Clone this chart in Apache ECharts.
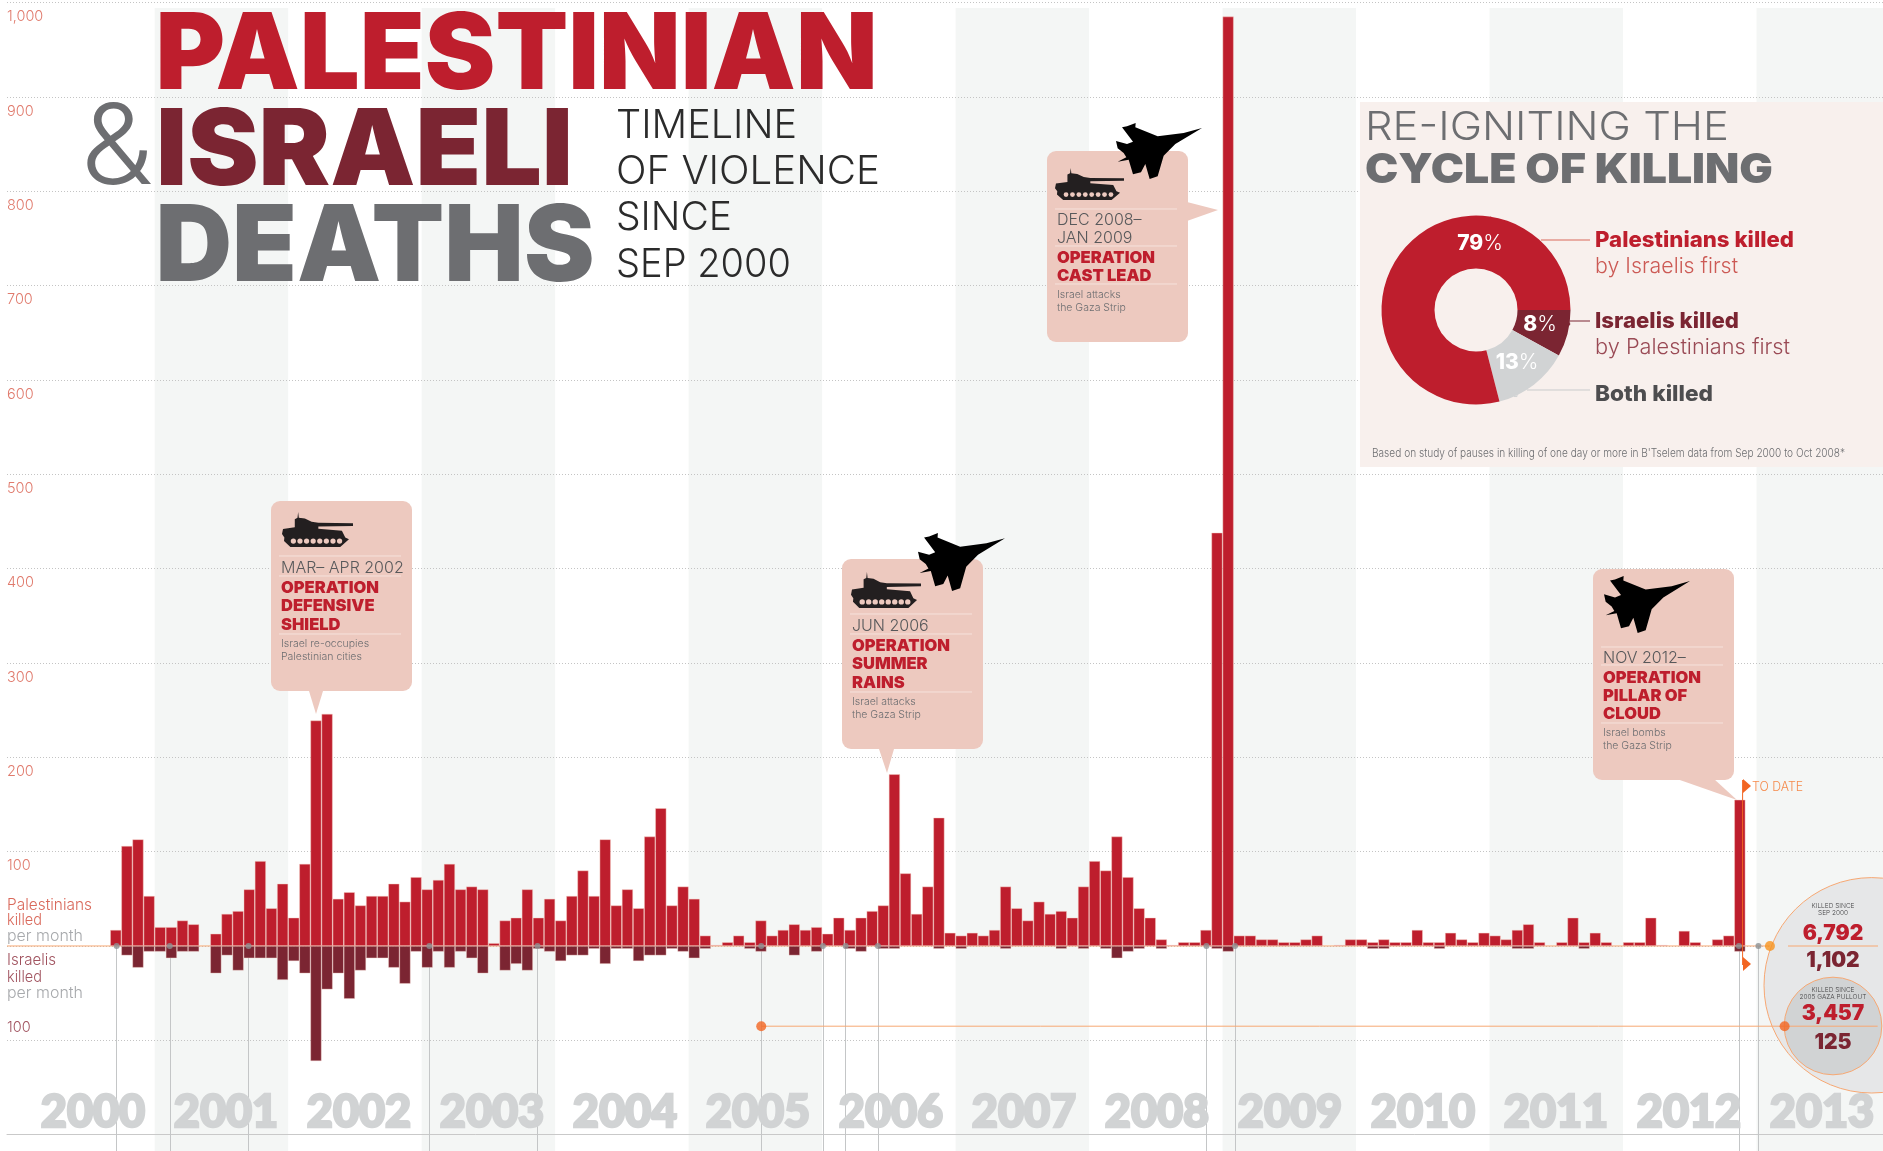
<!DOCTYPE html>
<html>
<head>
<meta charset="utf-8">
<title>Palestinian and Israeli deaths</title>
<script src="https://cdn.jsdelivr.net/npm/echarts@6/dist/echarts.min.js"></script>
<style>
    html, body { margin: 0; padding: 0; background: #fff; }
    #chart { width: 1883px; height: 1151px; }
</style>
</head>
<body>
<div id="chart"></div>
<script>
// one row per year, Jan..Dec
const palestiniansKilled = [
    0, 0, 0, 0, 0, 0, 0, 0, 17, 106, 113, 53,
    20, 20, 27, 23, 0, 13, 34, 37, 60, 90, 40, 66,
    30, 87, 239, 246, 50, 57, 43, 53, 53, 66, 47, 73,
    60, 70, 87, 60, 63, 60, 3, 27, 30, 60, 30, 50,
    27, 53, 80, 53, 113, 43, 60, 40, 116, 146, 43, 63,
    50, 11, 1, 4, 11, 4, 27, 11, 17, 23, 17, 20,
    13, 30, 17, 30, 37, 43, 182, 77, 34, 63, 136, 14,
    11, 14, 11, 17, 63, 40, 27, 47, 34, 37, 30, 63,
    90, 80, 116, 73, 40, 30, 7, 1, 4, 4, 17, 438,
    985, 11, 11, 7, 7, 4, 4, 7, 11, 0, 1, 7,
    7, 4, 7, 4, 4, 17, 4, 4, 14, 7, 4, 14,
    11, 7, 17, 23, 4, 0, 4, 30, 4, 14, 4, 0,
    4, 4, 30, 1, 0, 16, 4, 0, 7, 11, 155, 0
];
const israelisKilled = [
    0, 0, 0, 0, 0, 0, 0, 0, 0, 10, 23, 6,
    6, 13, 6, 6, 0, 29, 10, 26, 13, 13, 13, 36,
    16, 29, 122, 46, 29, 56, 26, 13, 13, 23, 40, 6,
    23, 6, 23, 6, 13, 29, 0, 26, 19, 26, 3, 6,
    16, 10, 10, 3, 19, 3, 3, 16, 10, 10, 3, 6,
    13, 3, 0, 0, 0, 3, 6, 0, 0, 10, 0, 6,
    0, 0, 3, 6, 0, 3, 3, 0, 0, 0, 3, 0,
    3, 0, 0, 0, 3, 0, 0, 0, 0, 3, 0, 3,
    0, 3, 13, 6, 3, 0, 3, 0, 0, 0, 0, 3,
    6, 0, 0, 0, 0, 0, 0, 0, 0, 0, 0, 0,
    0, 3, 3, 0, 0, 0, 0, 3, 0, 0, 0, 0,
    0, 0, 3, 3, 0, 0, 0, 0, 3, 0, 0, 0,
    0, 0, 0, 0, 0, 0, 0, 0, 0, 0, 6, 0
];
const years = ['2000', '2001', '2002', '2003', '2004', '2005', '2006', '2007', '2008', '2009', '2010', '2011', '2012', '2013'];
const shadedYears = ['2001', '2003', '2005', '2007', '2009', '2011', '2013'];
const monthNames = ['Jan', 'Feb', 'Mar', 'Apr', 'May', 'Jun', 'Jul', 'Aug', 'Sep', 'Oct', 'Nov', 'Dec'];
// dates of the vertical drop lines, as fractional years
const eventDates = [2000.715, 2001.113, 2001.703, 2003.058, 2003.868, 2005.544, 2006.006, 2006.176, 2006.418, 2008.879, 2009.093, 2012.868, 2013.014];
const cycleNames = ['Israelis killed', 'Both killed', 'Palestinians killed'];
const cycleShares = [8, 13, 79];
const cycleColors = ['#7b2532', '#d1d3d4', '#be1e2d'];

const RED = '#be1e2d';
const DARK = '#7b2532';
const GREY = '#6d6e71';
const ORANGE = '#f26522';
const PEACH = '#f7a873';
const SALMON = '#edc9bf';

const HEAVY = 'Inter';
const LIGHT = 'Inter';

const months = [];
years.forEach(y => monthNames.forEach(m => months.push(m + ' ' + y)));

let measureCtx = document.createElement('canvas').getContext('2d');

// text centred on y, optionally squeezed to a target width
let txt = function (str, x, y, font, fill, width, z) {
    let el = { type: 'text', x: x, y: y, z: z || 10, silent: true,
        style: { text: str, x: 0, y: 0, font: font, fill: fill, verticalAlign: 'middle' } };
    if (width) {
        measureCtx.font = font;
        el.scaleX = width / measureCtx.measureText(str).width;
    }
    return el;
};
let line = function (x1, y1, x2, y2, color, w, z) {
    return { type: 'line', z: z || 10, silent: true, shape: { x1: x1, y1: y1, x2: x2, y2: y2 }, style: { stroke: color, lineWidth: w || 1 } };
};

// icon outlines, traced by eye
const JET = [[525, 57], [470, 72], [392, 82], [325, 55], [326, 42], [300, 52], [285, 55], [318, 98], [300, 105], [267, 96], [272, 118], [290, 132], [298, 145], [272, 158], [305, 152], [318, 196], [342, 190], [355, 165], [368, 210], [392, 202], [410, 140], [445, 105]];
const TANK = [[145, 65], [147, 82], [165, 84], [185, 94], [205, 97], [308, 98], [308, 106], [205, 108], [205, 114], [275, 120], [285, 140], [296, 145], [270, 168], [122, 168], [103, 150], [104, 140], [97, 130], [100, 115], [135, 110], [135, 86], [143, 82]];
let icon = function (points, x, y, w, h, fill, z) {
    let xs = points.map(p => p[0]);
    let ys = points.map(p => p[1]);
    let x0 = Math.min.apply(null, xs);
    let y0 = Math.min.apply(null, ys);
    let sx = w / (Math.max.apply(null, xs) - x0);
    let sy = h / (Math.max.apply(null, ys) - y0);
    return { type: 'polygon', z: z, silent: true, shape: { points: points.map(p => [x + (p[0] - x0) * sx, y + (p[1] - y0) * sy]) }, style: { fill: fill } };
};
let jet = function (x, y, w, h) {
    return icon(JET, x, y, w, h, '#000', 12);
};
let tank = function (x, y, w, h) {
    let els = [icon(TANK, x, y, w, h, '#231f20', 11)];
    // road wheels
    for (let i = 0; i < 8; i++) {
        els.push({ type: 'circle', z: 11, silent: true, shape: { cx: x + w * (0.16 + i * 0.093), cy: y + h * 0.83, r: h * 0.075 }, style: { fill: SALMON } });
    }
    return els;
};
let callout = function (x, y, w, h, pointer) {
    return [
        { type: 'rect', z: 5, silent: true, shape: { x: x, y: y, width: w, height: h, r: 9 }, style: { fill: SALMON } },
        { type: 'polygon', z: 5, silent: true, shape: { points: pointer }, style: { fill: SALMON } }
    ];
};
// dates, operation name and a short note inside a callout
let calloutText = function (x, dividerX2, dividers, dates, ops, notes) {
    let els = dividers.map(d => line(x - 2, d, dividerX2, d, '#f6e2dc', 1, 6));
    dates.forEach(t => els.push(txt(t[0], x, t[1] + 1, '300 16px ' + LIGHT, '#58595b')));
    ops.forEach(t => els.push(txt(t[0], x, t[1] + 1, '900 16.5px ' + HEAVY, RED)));
    notes.forEach(t => els.push(txt(t[0], x, t[1] + 1, '300 10.5px ' + LIGHT, '#6d6e71')));
    return els;
};

let graphics = [].concat(
    // title block
    txt('PALESTINIAN', 155.5, 57, '900 106px ' + HEAVY, RED, 722),
    txt('ISRAELI', 156, 153, '900 106px ' + HEAVY, DARK, 417),
    txt('DEATHS', 155.5, 249, '900 106px ' + HEAVY, GREY, 439),
    txt('&', 81, 150, '300 112px ' + LIGHT, GREY, 72),
    txt('TIMELINE', 616, 126, '300 40px ' + LIGHT, '#2b2b2b', 181),
    txt('OF VIOLENCE', 616, 172, '300 40px ' + LIGHT, '#2b2b2b', 264),
    txt('SINCE', 616, 218, '300 40px ' + LIGHT, '#2b2b2b', 116),
    txt('SEP 2000', 616, 265, '300 40px ' + LIGHT, '#2b2b2b', 175),

    // axis side notes
    txt('Palestinians', 7, 905, '300 15.5px ' + LIGHT, '#d9685a', 85),
    txt('killed', 7, 920, '300 15.5px ' + LIGHT, '#d9685a', 35),
    txt('per month', 7, 936, '300 15.5px ' + LIGHT, '#a7a9ac', 76),
    txt('Israelis', 7, 960, '300 15.5px ' + LIGHT, '#a0525e', 49),
    txt('killed', 7, 977, '300 15.5px ' + LIGHT, '#a0525e', 35),
    txt('per month', 7, 993, '300 15.5px ' + LIGHT, '#a7a9ac', 76),

    // cycle of killing panel
    { type: 'rect', z: 1, silent: true, shape: { x: 1360, y: 102, width: 523, height: 365 }, style: { fill: '#f8f0ed' } },
    txt('RE-IGNITING THE', 1365, 128, '300 40px ' + LIGHT, GREY, 364),
    txt('CYCLE OF KILLING', 1365, 171, '900 41px ' + HEAVY, GREY, 408),
    line(1541, 240, 1590, 240, '#d9685a'),
    line(1570, 321, 1590, 321, DARK),
    line(1527, 390, 1590, 390, '#c9cbcc'),
    txt('Palestinians killed', 1595, 240, '800 22px ' + HEAVY, RED, 199),
    txt('by Israelis first', 1595, 266, '300 22px ' + LIGHT, '#cc5a55', 143),
    txt('Israelis killed', 1595, 321, '800 22px ' + HEAVY, DARK, 144),
    txt('by Palestinians first', 1595, 347, '300 22px ' + LIGHT, '#9a4a55', 195),
    txt('Both killed', 1595, 394, '800 22px ' + HEAVY, '#4d4d4f', 118),
    txt("Based on study of pauses in killing of one day or more in B'Tselem data from Sep 2000 to Oct 2008*", 1372, 454, '300 11.5px ' + LIGHT, '#6d6e71', 473),

    // operation defensive shield
    callout(271, 501, 141, 190, [[309, 691], [323, 691], [316, 714]]),
    tank(282, 512, 71, 35),
    calloutText(281, 401, [556, 576, 634],
        [['MAR– APR 2002', 567]],
        [['OPERATION', 587], ['DEFENSIVE', 605], ['SHIELD', 624]],
        [['Israel re-occupies', 643], ['Palestinian cities', 656]]),

    // operation summer rains
    callout(842, 559, 141, 190, [[879, 749], [894, 749], [887, 773]]),
    tank(851, 572, 70, 36),
    jet(918, 533, 87, 58),
    calloutText(852, 972, [614, 634, 692],
        [['JUN 2006', 625]],
        [['OPERATION', 645], ['SUMMER', 663], ['RAINS', 682]],
        [['Israel attacks', 701], ['the Gaza Strip', 714]]),

    // operation cast lead
    callout(1047, 151, 141, 191, [[1187, 202], [1218, 210], [1187, 221]]),
    tank(1055, 168, 69, 32),
    jet(1116, 123, 86, 56),
    calloutText(1057, 1177, [209, 246, 284],
        [['DEC 2008–', 219], ['JAN 2009', 237]],
        [['OPERATION', 257], ['CAST LEAD', 275]],
        [['Israel attacks', 294], ['the Gaza Strip', 307]]),

    // operation pillar of cloud
    callout(1593, 569, 141, 211, [[1677, 779], [1714, 779], [1737, 800]]),
    jet(1604, 576, 86, 57),
    calloutText(1603, 1723, [647, 665, 723],
        [['NOV 2012–', 657]],
        [['OPERATION', 677], ['PILLAR OF', 695], ['CLOUD', 713]],
        [['Israel bombs', 732], ['the Gaza Strip', 745]]),

    // to date flag
    line(1742.6, 780, 1742.6, 965, ORANGE, 1, 8),
    { type: 'polygon', z: 8, silent: true, shape: { points: [[1743, 779], [1751, 786], [1743, 793]] }, style: { fill: ORANGE } },
    { type: 'polygon', z: 8, silent: true, shape: { points: [[1743, 957], [1751, 964], [1743, 971]] }, style: { fill: ORANGE } },
    txt('TO DATE', 1752, 787, '300 13px ' + LIGHT, '#f58a4b', 51),

    // totals bubbles
    { type: 'circle', z: 3, silent: true, shape: { cx: 1871.7, cy: 985.3, r: 107.7 }, style: { fill: '#e6e7e8', stroke: PEACH, lineWidth: 1 } },
    { type: 'circle', z: 3, silent: true, shape: { cx: 1833, cy: 1026, r: 48.8 }, style: { fill: '#d1d3d4', stroke: PEACH, lineWidth: 1 } },
    line(1788, 946, 1878, 946, PEACH, 1, 4),
    { type: 'text', z: 10, silent: true, x: 1833, y: 910, style: { text: 'KILLED SINCE\nSEP 2000', font: '300 6.5px ' + LIGHT, fill: '#414042', align: 'center', verticalAlign: 'middle', lineHeight: 7 } },
    { type: 'text', z: 10, silent: true, x: 1833, y: 993.5, style: { text: 'KILLED SINCE\n2005 GAZA PULLOUT', font: '300 6.5px ' + LIGHT, fill: '#414042', align: 'center', verticalAlign: 'middle', lineHeight: 7 } },
    { type: 'text', z: 10, silent: true, x: 1833, y: 934, style: { text: '6,792', font: '900 21px ' + HEAVY, fill: RED, align: 'center', verticalAlign: 'middle' } },
    { type: 'text', z: 10, silent: true, x: 1833, y: 961, style: { text: '1,102', font: '900 21px ' + HEAVY, fill: DARK, align: 'center', verticalAlign: 'middle' } },
    { type: 'text', z: 10, silent: true, x: 1833, y: 1014, style: { text: '3,457', font: '900 21px ' + HEAVY, fill: RED, align: 'center', verticalAlign: 'middle' } },
    { type: 'text', z: 10, silent: true, x: 1833, y: 1043, style: { text: '125', font: '900 21px ' + HEAVY, fill: DARK, align: 'center', verticalAlign: 'middle' } }
);

let hiddenValue = function (grid, min, max) {
    return { type: 'value', gridIndex: grid, min: min, max: max, show: false };
};
let hiddenCategory = function (grid, data) {
    return { type: 'category', gridIndex: grid, data: data, show: false };
};

let chart = echarts.init(document.getElementById('chart'), null, { renderer: 'canvas' });

chart.setOption({
    animation: false,
    backgroundColor: '#fff',
    textStyle: { fontFamily: LIGHT },
    graphic: { elements: graphics },
    grid: [
        { left: 7, right: 0, top: 2.4, bottom: 16.3 },               // gridlines and axis labels
        { left: 21.2, width: 1868.8, top: 2.4, bottom: 16.3, outerBoundsMode: 'none' },  // monthly bars
        { left: 21.2, width: 1868.8, top: 8, bottom: 0, outerBoundsMode: 'none' },       // shaded years
        { left: 26.5, width: 1862, top: 1000, bottom: 61, outerBoundsMode: 'none' },     // year names
        { left: 21.2, width: 1868.8, top: 946, bottom: 0, outerBoundsMode: 'none' }      // event drop lines
    ],
    xAxis: [
        { type: 'value', gridIndex: 0, min: 1999.894, max: 2013.947, axisLabel: { show: false }, axisTick: { show: false }, splitLine: { show: false },
            axisLine: { show: true, onZero: false, lineStyle: { color: '#c9c9c9', width: 1 } } },
        hiddenCategory(1, months),
        hiddenCategory(2, years),
        { type: 'category', gridIndex: 3, data: years, z: 1, axisLine: { show: false }, axisTick: { show: false },
            axisLabel: { interval: 0, margin: 22, verticalAlign: 'middle', color: '#d1d3d4', fontFamily: 'Lato', fontWeight: 900, fontSize: 45,
                textBorderColor: '#d1d3d4', textBorderWidth: 2.5 } },
        hiddenValue(4, 2000, 2014)
    ],
    yAxis: [
        { type: 'value', gridIndex: 0, min: -200, max: 1000, interval: 100, axisLine: { show: false }, axisTick: { show: false },
            splitLine: { show: true, showMinLine: false, lineStyle: { type: [1, 2], color: '#c4c4c4', width: 1 } },
            axisLabel: { inside: true, margin: 0, verticalAlign: 'top', padding: [7, 0, 0, 0], color: '#e07a6c', fontSize: 14.5, fontWeight: 300,
                showMinLabel: true, showMaxLabel: true, hideOverlap: false,
                formatter: v => v > 0 ? echarts.format.addCommas(v) : '' } },
        { type: 'value', gridIndex: 0, min: -200, max: 1000, interval: 100, position: 'left', axisLine: { show: false }, axisTick: { show: false }, splitLine: { show: false },
            axisLabel: { inside: true, margin: 0, verticalAlign: 'bottom', padding: [0, 0, 5, 0], color: '#a0525e', fontSize: 14.5, fontWeight: 300,
                formatter: v => v === -100 ? '100' : '' } },
        hiddenValue(1, -200, 1000),
        hiddenValue(2, 0, 1),
        hiddenValue(3, 0, 1),
        hiddenValue(4, 0, 1)
    ],
    series: [
        {
            name: 'shaded years', type: 'bar', xAxisIndex: 2, yAxisIndex: 3, z: -1, silent: true, barWidth: '100%',
            itemStyle: { color: '#f4f6f5' },
            data: years.map(y => shadedYears.includes(y) ? 1 : null)
        },
        {
            name: 'zero line', type: 'line', xAxisIndex: 0, yAxisIndex: 0, z: 1, silent: true, symbol: 'none',
            lineStyle: { color: PEACH, width: 1 },
            data: [[1999.894, 0], [2013.10, 0]]
        },
        {
            name: 'events', type: 'scatter', xAxisIndex: 4, yAxisIndex: 5, z: 3, silent: true, symbol: 'circle', symbolSize: 6,
            itemStyle: { color: '#8d9193' },
            data: eventDates.map(d => [d, 1]),
            markLine: {
                z: 1, silent: true, symbol: 'none', label: { show: false },
                lineStyle: { type: 'solid', color: '#c4c6c7', width: 1 },
                data: eventDates.map(d => [{ coord: [d, 1] }, { coord: [d, 0] }])
            }
        },
        {
            name: 'Palestinians killed', type: 'bar', xAxisIndex: 1, yAxisIndex: 2, barWidth: '100%', barGap: '-100%', z: 2,
            itemStyle: { color: RED, borderColor: 'rgba(245,205,195,0.75)', borderWidth: 0.6 },
            data: palestiniansKilled.map(v => v || null)
        },
        {
            name: 'Israelis killed', type: 'bar', xAxisIndex: 1, yAxisIndex: 2, barWidth: '100%', barGap: '-100%', z: 2,
            itemStyle: { color: DARK, borderColor: 'rgba(245,205,195,0.6)', borderWidth: 0.6 },
            data: israelisKilled.map(v => v ? -v : null)
        },
        {
            name: 'gaza pullout line', type: 'line', xAxisIndex: 0, yAxisIndex: 0, z: 4, silent: true, symbol: 'none',
            lineStyle: { color: PEACH, width: 1 },
            data: [[2005.544, -85], [2013.907, -85]]
        },
        {
            name: 'pullout dots', type: 'scatter', xAxisIndex: 0, yAxisIndex: 0, z: 4, silent: true, symbol: 'circle', symbolSize: 10,
            itemStyle: { color: ORANGE },
            data: [[2005.544, -85], [2013.210, -85]]
        },
        {
            name: 'since 2000 dot', type: 'scatter', xAxisIndex: 0, yAxisIndex: 0, z: 4, silent: true, symbol: 'circle', symbolSize: 10,
            itemStyle: { color: '#f7941e' },
            data: [[2013.10, 0]]
        },
        {
            name: 'cycle of killing', type: 'pie', z: 4, silent: true, center: [1476, 310], radius: [41.5, 94.5], startAngle: 0, clockwise: true,
            label: {
                show: true, position: 'inside', color: '#fff',
                formatter: p => '{n|' + p.value + '}{p|%}',
                rich: {
                    n: { fontFamily: HEAVY, fontWeight: 800, fontSize: 21, color: '#fff' },
                    p: { fontFamily: LIGHT, fontWeight: 300, fontSize: 21, color: '#fff' }
                }
            },
            labelLayout: function (p) {
                if (p.dataIndex === 2) return { x: 1480, y: 244 };
                if (p.dataIndex === 1) return { x: 1517, y: 363 };
                return { x: 1540, y: 325 };
            },
            data: cycleNames.map((n, i) => ({ name: n, value: cycleShares[i], itemStyle: { color: cycleColors[i] } }))
        }
    ]
});
</script>
</body>
</html>
